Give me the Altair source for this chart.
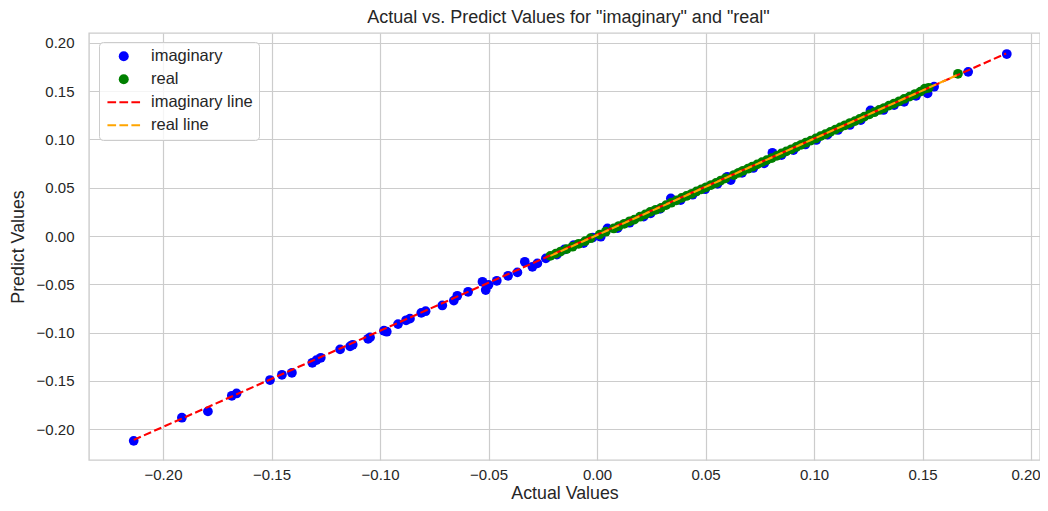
import altair as alt
import pandas as pd

# ---- data ----
imag_actual = [-0.2135, -0.1913, -0.1793, -0.1683, -0.1661, -0.1507, -0.1452, -0.1406, -0.1312, -0.1293,
               -0.1273, -0.1184, -0.1138, -0.1126, -0.1055, -0.1046, -0.0982, -0.0969, -0.0917, -0.0880,
               -0.0862, -0.0810, -0.0790, -0.0713, -0.0660, -0.0644, -0.0594, -0.0528, -0.0513, -0.0500,
               -0.0462, -0.0410, -0.0367, -0.0333, -0.0298, -0.0275, -0.0236, -0.0185, -0.0150, -0.0107,
               -0.0062, -0.0020, 0.0017, 0.0048, 0.0095, 0.0150, 0.0215, 0.0247, 0.0290, 0.0340,
               0.0385, 0.0440, 0.0498, 0.0555, 0.0600, 0.0616, 0.0668, 0.0720, 0.0770, 0.0808,
               0.0850, 0.0905, 0.0960, 0.1010, 0.1062, 0.1110, 0.1165, 0.1215, 0.1260, 0.1320,
               0.1369, 0.1415, 0.1470, 0.1523, 0.1553, 0.1710, 0.1888]
imag_predict = [-0.2120, -0.1880, -0.1815, -0.1653, -0.1629, -0.1490, -0.1436, -0.1415, -0.1312, -0.1284,
                -0.1260, -0.1173, -0.1142, -0.1125, -0.1063, -0.1049, -0.0980, -0.0990, -0.0911, -0.0872,
                -0.0855, -0.0795, -0.0778, -0.0718, -0.0668, -0.0618, -0.0577, -0.0473, -0.0559, -0.0505,
                -0.0463, -0.0411, -0.0376, -0.0266, -0.0318, -0.0283, -0.0231, -0.0192, -0.0139, -0.0093,
                -0.0072, -0.0015, -0.0007, 0.0080, 0.0082, 0.0138, 0.0202, 0.0235, 0.0282, 0.0390,
                0.0372, 0.0428, 0.0485, 0.0540, 0.0614, 0.0580, 0.0655, 0.0705, 0.0752, 0.0862,
                0.0838, 0.0890, 0.0948, 0.0995, 0.1050, 0.1098, 0.1150, 0.1200, 0.1300, 0.1305,
                0.1356, 0.1390, 0.1452, 0.1477, 0.1546, 0.1700, 0.1884]

real_actual = [-0.0215, -0.0190, -0.0168, -0.0140, -0.0113, -0.0085, -0.0055, -0.0030, 0.0012, 0.0040,
               0.0077, 0.0100, 0.0125, 0.0150, 0.0172, 0.0198, 0.0222, 0.0245, 0.0270, 0.0295,
               0.0318, 0.0342, 0.0366, 0.0390, 0.0412, 0.0436, 0.0458, 0.0480, 0.0502, 0.0525,
               0.0548, 0.0570, 0.0592, 0.0630, 0.0652, 0.0672, 0.0695, 0.0715, 0.0738, 0.0760,
               0.0782, 0.0805, 0.0828, 0.0850, 0.0872, 0.0895, 0.0918, 0.0940, 0.0962, 0.0985,
               0.1008, 0.1030, 0.1052, 0.1075, 0.1098, 0.1120, 0.1142, 0.1165, 0.1188, 0.1210,
               0.1232, 0.1255, 0.1278, 0.1300, 0.1322, 0.1345, 0.1368, 0.1392, 0.1415, 0.1440,
               0.1465, 0.1490, 0.1510, 0.1528, 0.1663]
real_predict = [-0.0205, -0.0182, -0.0160, -0.0135, -0.0110, -0.0080, -0.0052, -0.0022, 0.0015, 0.0045,
                0.0079, 0.0104, 0.0127, 0.0153, 0.0170, 0.0200, 0.0225, 0.0250, 0.0272, 0.0292,
                0.0320, 0.0345, 0.0370, 0.0395, 0.0415, 0.0438, 0.0462, 0.0483, 0.0505, 0.0528,
                0.0550, 0.0575, 0.0598, 0.0632, 0.0655, 0.0676, 0.0697, 0.0718, 0.0742, 0.0765,
                0.0786, 0.0808, 0.0830, 0.0855, 0.0877, 0.0898, 0.0922, 0.0945, 0.0966, 0.0988,
                0.1010, 0.1034, 0.1055, 0.1078, 0.1102, 0.1125, 0.1147, 0.1170, 0.1190, 0.1213,
                0.1236, 0.1260, 0.1282, 0.1305, 0.1325, 0.1350, 0.1372, 0.1395, 0.1420, 0.1443,
                0.1470, 0.1495, 0.1525, 0.1535, 0.1680]

imag_line_actual = [-0.2135, 0.1885]
imag_line_predict = [-0.2110, 0.1890]
real_line_actual = [-0.0215, 0.1663]
real_line_predict = [-0.0205, 0.1670]

series_names = ["imaginary", "real", "imaginary line", "real line"]
series_colors = ["#0000ff", "#008000", "#ff0000", "#ffa500"]
tick_values = [-0.20, -0.15, -0.10, -0.05, 0.00, 0.05, 0.10, 0.15, 0.20]

# ---- tables ----
pts = pd.DataFrame({
    "actual": imag_actual + real_actual,
    "predict": imag_predict + real_predict,
    "series": ["imaginary"] * len(imag_actual) + ["real"] * len(real_actual),
})
imag_line = pd.DataFrame({"actual": imag_line_actual, "predict": imag_line_predict})
real_line = pd.DataFrame({"actual": real_line_actual, "predict": real_line_predict})

# ---- style ----
FONT = "Liberation Sans"
TXT = "#262626"
PLOT_W, PLOT_H = 951, 427
x_dom = [-0.2341, 0.2041]
y_dom = [-0.2318, 0.2102]

DASH = "M-3.26,-0.2H-1.53V0.2H-3.26Z M-0.87,-0.2H0.87V0.2H-0.87Z M1.53,-0.2H3.26V0.2H1.53Z"
series_shapes = ["circle", "circle", DASH, DASH]

xscale = alt.Scale(domain=x_dom, nice=False, zero=False)
yscale = alt.Scale(domain=y_dom, nice=False, zero=False)

legend = alt.Legend(
    title=None, orient="none", legendX=10, legendY=9,
    padding=6, symbolSize=100, symbolOffset=10.5, labelOffset=19,
    labelFontSize=16.5, labelFont=FONT, labelColor=TXT,
    fillColor="rgba(255,255,255,0.8)", strokeColor="#cccccc", cornerRadius=4,
    rowPadding=6, symbolStrokeWidth=0, symbolOpacity=1,
)

scatter = alt.Chart(pts).mark_point(filled=True, opacity=1, size=95, strokeWidth=0).encode(
    x=alt.X("actual:Q", scale=xscale,
            axis=alt.Axis(values=tick_values, format=".2f", title="Actual Values",
                          titleY=33, titleBaseline="middle",
                          labelFlush=12, labelFlushOffset=9)),
    y=alt.Y("predict:Q", scale=yscale,
            axis=alt.Axis(values=tick_values, format=".2f", title="Predict Values",
                          titleX=-71, titleBaseline="middle")),
    color=alt.Color("series:N", scale=alt.Scale(domain=series_names, range=series_colors), legend=legend),
    shape=alt.Shape("series:N", scale=alt.Scale(domain=series_names, range=series_shapes), legend=legend),
)

red_line = alt.Chart(imag_line).mark_line(color="#ff0000", strokeDash=[7.8, 3.4], strokeWidth=2.1).encode(
    x=alt.X("actual:Q", scale=xscale), y=alt.Y("predict:Q", scale=yscale))
orange_line = alt.Chart(real_line).mark_line(color="#ffa500", strokeDash=[7.8, 3.4], strokeWidth=2.1).encode(
    x=alt.X("actual:Q", scale=xscale), y=alt.Y("predict:Q", scale=yscale))

chart = alt.layer(scatter, red_line, orange_line).properties(
    width=PLOT_W, height=PLOT_H,
    autosize=alt.AutoSizeParams(type="none"),
    padding={"left": 81, "top": 25, "right": 0, "bottom": 43},
    title=alt.TitleParams('Actual vs. Predict Values for "imaginary" and "real"',
                          font=FONT, fontSize=18, fontWeight="normal", color=TXT, offset=6, dx=4),
).configure_view(stroke="#cccccc", strokeWidth=1.4).configure_axis(
    grid=True, gridColor="#cccccc", gridWidth=1.2, domain=False, ticks=False, tickSize=0,
    labelFont=FONT, labelFontSize=15, labelColor=TXT,
    titleFont=FONT, titleFontSize=17.8, titleFontWeight="normal", titleColor=TXT,
).configure_axisX(labelPadding=7).configure_axisY(labelPadding=15)

chart.save("out.html", embed_options={"renderer": "svg", "actions": False})
